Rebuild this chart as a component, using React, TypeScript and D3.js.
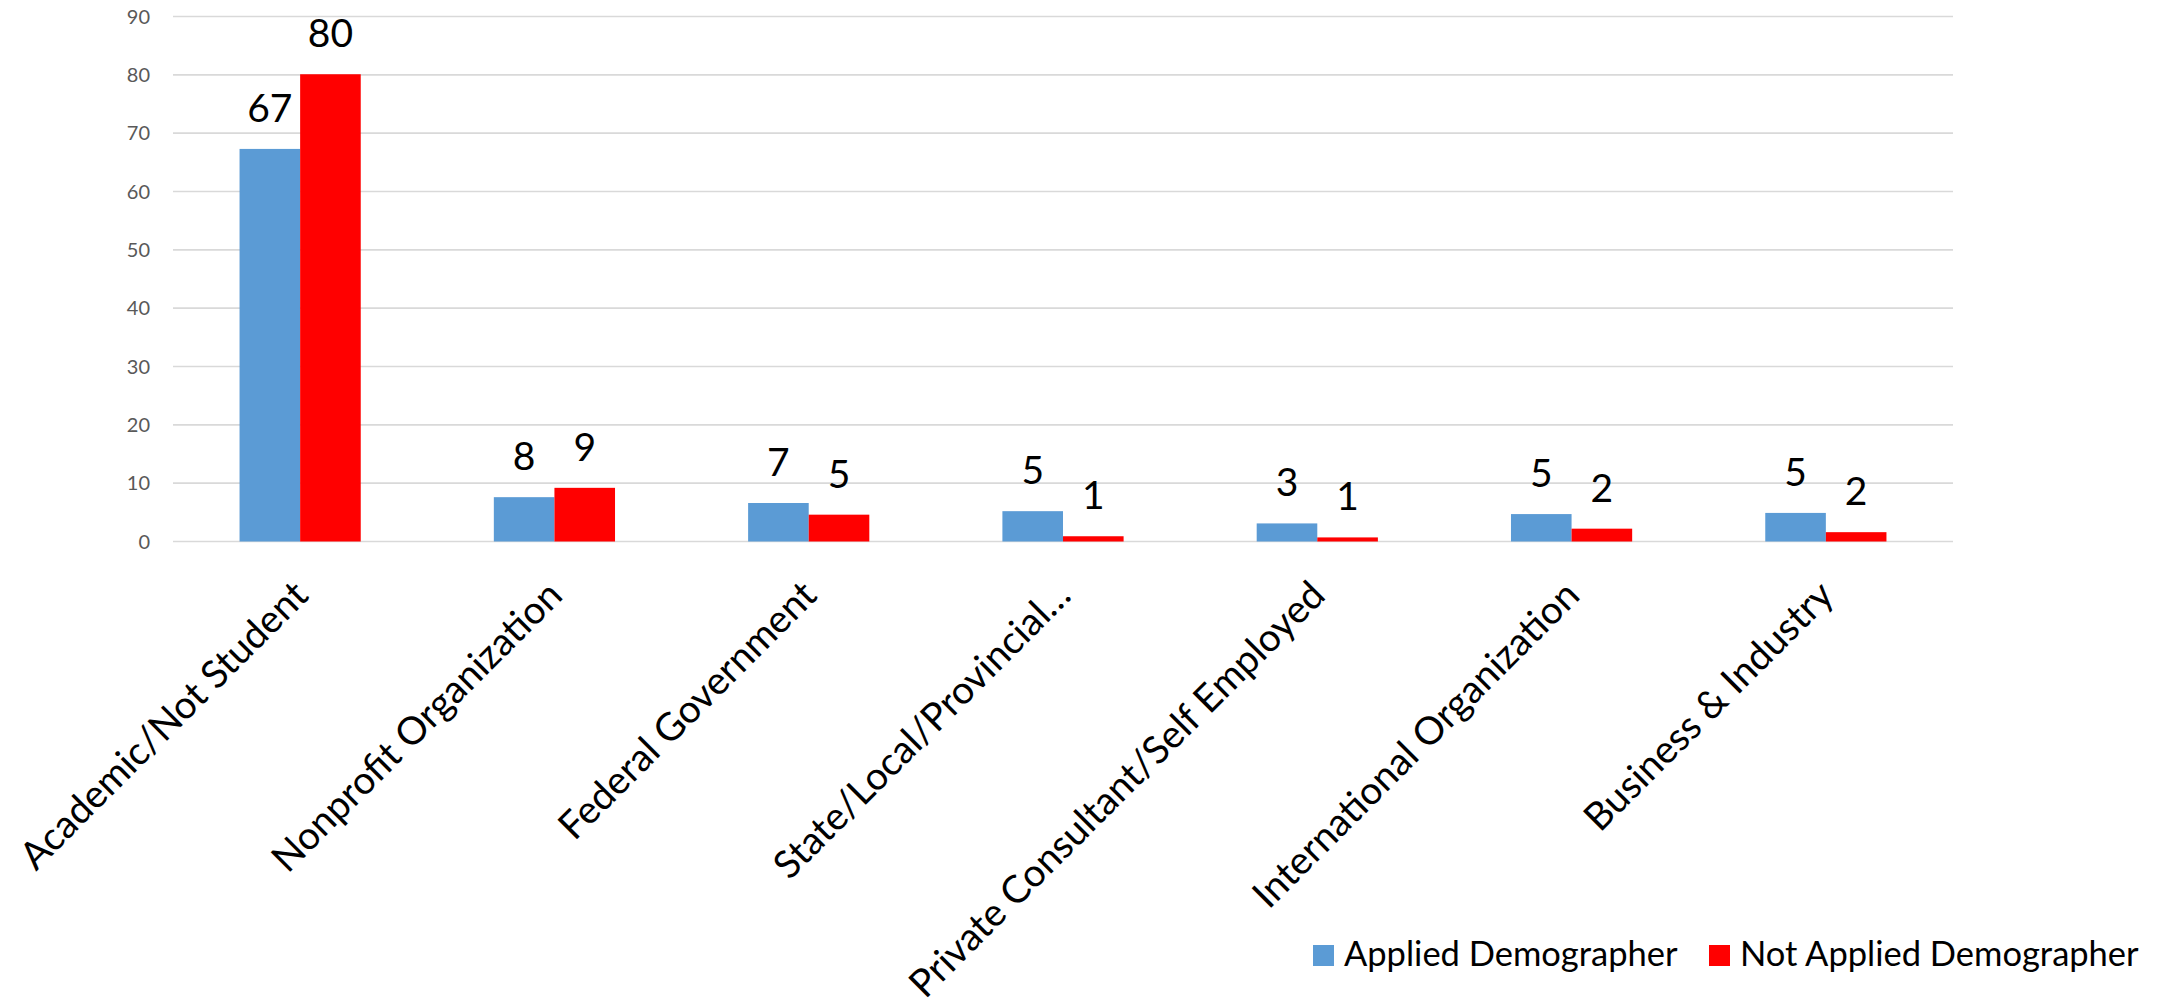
import { useEffect, useRef } from 'react';
import * as d3 from 'd3';

const categories = [
  "Academic/Not Student",
  "Nonprofit Organization",
  "Federal Government",
  "State/Local/Provincial…",
  "Private Consultant/Self Employed",
  "International Organization",
  "Business & Industry",
];

const seriesNames = ["Applied Demographer", "Not Applied Demographer"];
const seriesColors = ["#5B9BD5", "#FF0000"];

const applied = [67.3, 7.6, 6.6, 5.2, 3.1, 4.7, 4.9];
const notApplied = [80.1, 9.2, 4.6, 0.9, 0.7, 2.2, 1.6];

const yTicks = [0, 10, 20, 30, 40, 50, 60, 70, 80, 90];

const FONT = "Lato, 'Open Sans', sans-serif";

const App = () => {
  const svgRef = useRef<SVGSVGElement>(null);

  useEffect(() => {
    if (!svgRef.current) return;
    const svg = d3.select(svgRef.current);
    svg.selectAll("*").remove();

    const width = 2159;
    const height = 1007;
    const plot = { left: 173, right: 1953, top: 16.5, bottom: 541.5 };

    svg.attr("width", width).attr("height", height);

    const x0 = d3.scaleBand<string>()
      .domain(categories)
      .range([plot.left, plot.right])
      .paddingInner(0.5234)
      .paddingOuter(0.2617);

    const x1 = d3.scaleBand<string>()
      .domain(seriesNames)
      .range([0, x0.bandwidth()]);

    const y = d3.scaleLinear()
      .domain([0, 90])
      .range([plot.bottom, plot.top]);

    // gridlines
    const grid = svg.append("g");
    grid.selectAll("line")
      .data(yTicks)
      .enter()
      .append("line")
      .attr("x1", plot.left)
      .attr("x2", plot.right)
      .attr("y1", d => y(d))
      .attr("y2", d => y(d))
      .style("stroke", "#d9d9d9")
      .style("stroke-width", "1.6px");

    // y tick labels
    svg.append("g").selectAll("text")
      .data(yTicks)
      .enter()
      .append("text")
      .attr("x", 150)
      .attr("y", d => y(d))
      .attr("dy", "0.36em")
      .attr("text-anchor", "end")
      .style("font-family", FONT)
      .style("font-size", "20px")
      .style("fill", "#595959")
      .text(d => d.toString());

    const seriesData = [applied, notApplied];

    // bars + labels
    seriesData.forEach((values, si) => {
      const g = svg.append("g");
      const name = seriesNames[si];
      g.selectAll("rect")
        .data(values)
        .enter()
        .append("rect")
        .attr("x", (d, i) => (x0(categories[i]) ?? 0) + (x1(name) ?? 0))
        .attr("y", d => y(d))
        .attr("width", x1.bandwidth())
        .attr("height", d => y(0) - y(d))
        .style("fill", seriesColors[si]);

      g.selectAll("text")
        .data(values)
        .enter()
        .append("text")
        .attr("x", (d, i) => (x0(categories[i]) ?? 0) + (x1(name) ?? 0) + x1.bandwidth() / 2)
        .attr("y", d => y(d) - 27)
        .attr("text-anchor", "middle")
        .style("font-family", FONT)
        .style("font-size", "39px")
        .style("fill", "#000")
        .text(d => Math.round(d).toString());
    });

    // category labels
    svg.append("g").selectAll("text")
      .data(categories)
      .enter()
      .append("text")
      .attr("transform", d => {
        const cx = (x0(d) ?? 0) + x0.bandwidth() / 2;
        return `translate(${cx + 10}, ${plot.bottom + 56}) rotate(-45)`;
      })
      .attr("text-anchor", "end")
      .style("font-family", FONT)
      .style("font-size", "38.5px")
      .style("fill", "#000")
      .text(d => d);

    // legend
    const legendX = [1313, 1709];
    const legend = svg.append("g");
    seriesNames.forEach((name, i) => {
      const row = legend.append("g").attr("transform", `translate(${legendX[i]}, 945)`);
      row.append("rect")
        .attr("width", 21)
        .attr("height", 21)
        .style("fill", seriesColors[i]);
      row.append("text")
        .attr("x", 31)
        .attr("y", 21)
        .style("font-family", FONT)
        .style("font-size", "34.5px")
        .style("fill", "#000")
        .text(name);
    });
  }, []);

  return (
    <div style={{ position: "absolute", left: 0, top: 0, background: "#fff" }}>
      <svg ref={svgRef} style={{ display: "block" }}></svg>
    </div>
  );
};

export default App;
